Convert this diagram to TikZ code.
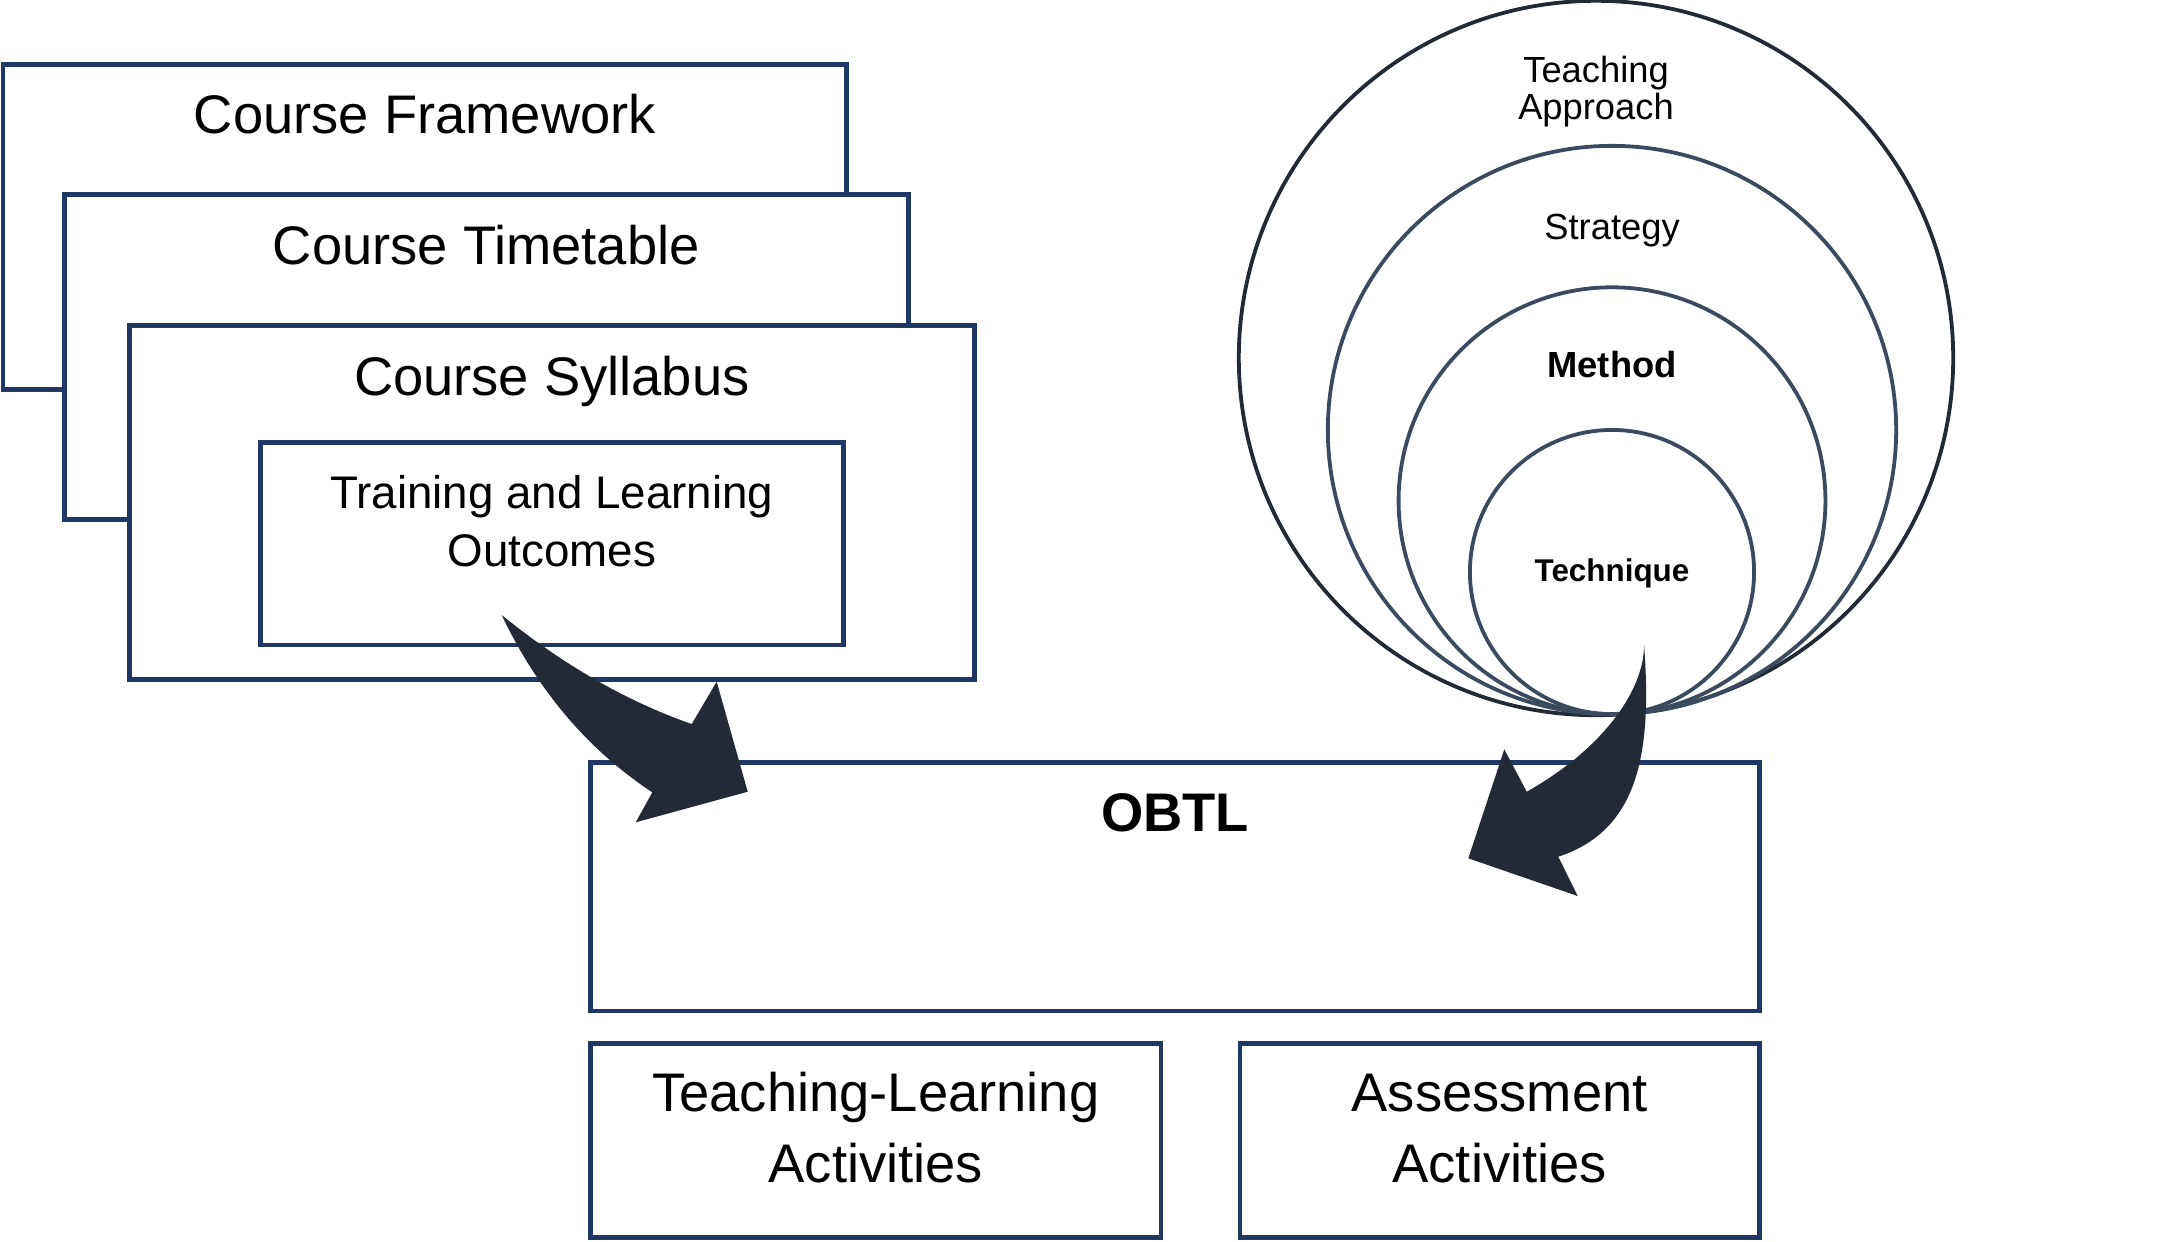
\documentclass[tikz,border=0pt]{standalone}
\usepackage{fontspec}
\setmainfont{Liberation Sans}
\usetikzlibrary{fit}
\tikzstyle{canvas} = [x = .01cm, y = -.01cm]
\definecolor{boxColor}{RGB}{31,56,100}
\definecolor{outerRingColor}{RGB}{34,42,53}
\definecolor{ringColor}{RGB}{59,74,94}
\definecolor{arrowColor}{RGB}{35,42,53}
\tikzstyle{boxStyle} = [draw=boxColor, fill=white, line width=1.28pt, inner sep=0pt, outer sep=0pt]
\tikzstyle{ringStyle} = [circle, draw=ringColor, line width=1.08pt, inner sep=0pt, outer sep=0pt]
\tikzstyle{outerRingStyle} = [ringStyle, draw=outerRingColor]
\tikzstyle{bigText} = [font=\fontsize{15.45}{18}\selectfont, anchor=base, inner sep=0pt]
\tikzstyle{boldText} = [font=\fontsize{15.45}{18}\selectfont\bfseries, anchor=base, inner sep=0pt]
\tikzstyle{midText} = [font=\fontsize{13}{16}\selectfont, anchor=base, inner sep=0pt]
\tikzstyle{ringText} = [font=\fontsize{10.33}{12}\selectfont, anchor=base, inner sep=0pt]
\tikzstyle{ringBoldText} = [font=\fontsize{10.33}{12}\selectfont\bfseries, anchor=base, inner sep=0pt]
\tikzstyle{smallBoldText} = [font=\fontsize{8.93}{11}\selectfont\bfseries, anchor=base, inner sep=0pt]
\tikzstyle{blockArrow} = [fill=arrowColor, draw=none]
\newcommand{\courseBox}[5]{\node [boxStyle, fit = {(#2,#3) (#4,#5)}] (#1) {};}
\newcommand{\boxLabel}[5]{\node [#4] (#1) at ([yshift = -#3cm]#2.north) {#5};}

\begin{document}
\begin{tikzpicture}[canvas]
  \useasboundingbox (0,0) rectangle (2179,1241);

  \courseBox{framework}{3}{64.7}{846.7}{389.3}
  \courseBox{timetable}{64.3}{194.3}{908.3}{519.3}
  \courseBox{syllabus}{129.3}{325.3}{974.3}{679.3}
  \courseBox{outcomes}{260.3}{442.7}{843.3}{645}
  \courseBox{obtl}{590.7}{762.3}{1759.3}{1011}
  \courseBox{tla}{590.7}{1043.3}{1161}{1237.7}
  \courseBox{assessment}{1240}{1043.3}{1759.3}{1237.7}

  \boxLabel{frameworkText}{framework}{.686}{bigText}{Course Framework}
  \boxLabel{timetableText}{timetable}{.697}{bigText}{Course Timetable}
  \boxLabel{syllabusText}{syllabus}{.697}{bigText}{Course Syllabus}
  \boxLabel{outcomesTextA}{outcomes}{.656}{midText}{Training and Learning}
  \boxLabel{outcomesTextB}{outcomes}{1.24}{midText}{Outcomes}
  \boxLabel{obtlText}{obtl}{.687}{boldText}{OBTL}
  \boxLabel{tlaTextA}{tla}{.677}{bigText}{Teaching-Learning}
  \boxLabel{tlaTextB}{tla}{1.394}{bigText}{Activities}
  \boxLabel{assessmentTextA}{assessment}{.677}{bigText}{Assessment}
  \boxLabel{assessmentTextB}{assessment}{1.394}{bigText}{Activities}

  \node [outerRingStyle, minimum size = 7.14cm] (approach) at (1596,358) {};
  \node [ringStyle, minimum size = 5.68cm] (strategy) at (1612,430) {};
  \node [ringStyle, minimum size = 4.266cm] (method) at (1612,500.7) {};
  \node [ringStyle, minimum size = 2.84cm] (technique) at (1612,572) {};

  \boxLabel{approachTextA}{approach}{.813}{ringText}{Teaching}
  \boxLabel{approachTextB}{approach}{1.19}{ringText}{Approach}
  \boxLabel{strategyText}{strategy}{.94}{ringText}{Strategy}
  \boxLabel{methodText}{method}{.903}{ringBoldText}{Method}
  \boxLabel{techniqueText}{technique}{1.51}{smallBoldText}{Technique}

  \fill [blockArrow] (501.7,615) .. controls (563.3,664.9) and (626.6,701.3) .. (691.7,724)
    -- (716.7,681.7) -- (747.7,791.7) -- (635.7,822.3) -- (652.3,792.3)
    .. controls (588,749.8) and (537.7,690.7) .. (501.7,615) -- cycle;
  \fill [blockArrow] (1644,644) .. controls (1652,750) and (1640,830) .. (1558.3,856.7)
    -- (1577.7,896) -- (1468.3,858.3) -- (1504.3,749.3) -- (1526.7,791.7)
    .. controls (1606.7,746.7) and (1645,686.7) .. (1644,644) -- cycle;
\end{tikzpicture}
\end{document}
